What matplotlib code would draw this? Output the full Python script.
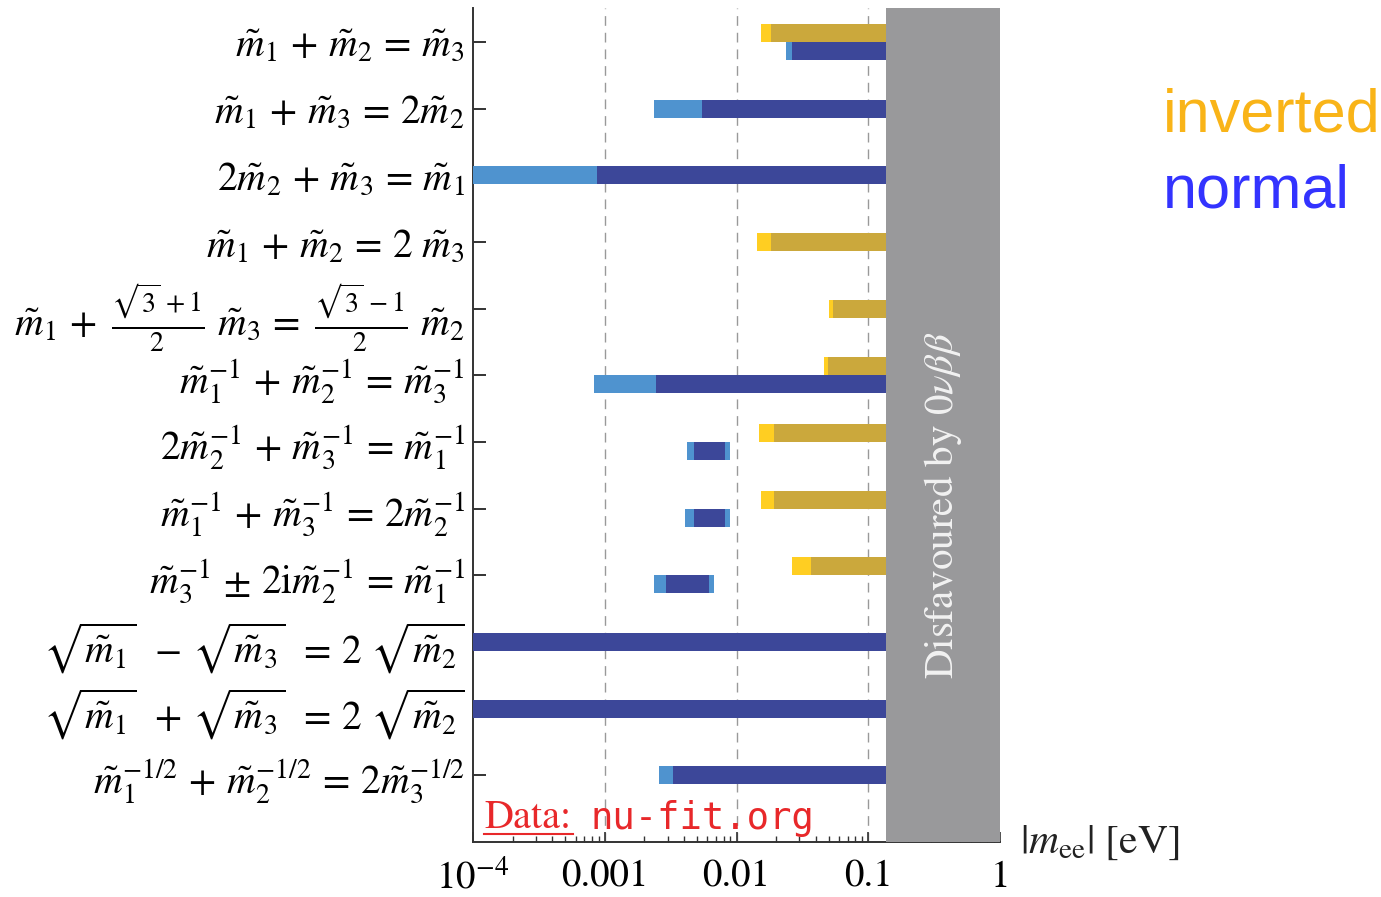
import numpy as np
import matplotlib
matplotlib.use('Agg')
import matplotlib.pyplot as plt
from matplotlib.ticker import LogLocator, NullFormatter

plt.rcParams['mathtext.fontset'] = 'stix'
plt.rcParams['font.family'] = 'STIXGeneral'

nan = np.nan

# relation labels, top to bottom
labels = [
    r'$\tilde{m}_1 \,+\, \tilde{m}_2 \,=\, \tilde{m}_3$',
    r'$\tilde{m}_1 \,+\, \tilde{m}_3 \,=\, 2\tilde{m}_2$',
    r'$2\tilde{m}_2 \,+\, \tilde{m}_3 \,=\, \tilde{m}_1$',
    r'$\tilde{m}_1 \,+\, \tilde{m}_2 \,=\, 2\ \tilde{m}_3$',
    r'$\tilde{m}_1 \,+\ \frac{\sqrt{3}\,+1}{2}\ \tilde{m}_3 \,=\ \frac{\sqrt{3}\,-1}{2}\ \tilde{m}_2$',
    r'$\tilde{m}_1^{-1} \,+\, \tilde{m}_2^{-1} \,=\, \tilde{m}_3^{-1}$',
    r'$2\tilde{m}_2^{-1} \,+\, \tilde{m}_3^{-1} \,=\, \tilde{m}_1^{-1}$',
    r'$\tilde{m}_1^{-1} \,+\, \tilde{m}_3^{-1} \,=\, 2\tilde{m}_2^{-1}$',
    r'$\tilde{m}_3^{-1} \,\pm\, 2\mathrm{i}\tilde{m}_2^{-1} \,=\, \tilde{m}_1^{-1}$',
    r'$\sqrt{\tilde{m}_1}\ \,-\, \sqrt{\tilde{m}_3}\ \,=\, 2\ \sqrt{\tilde{m}_2}$',
    r'$\sqrt{\tilde{m}_1}\ \,+\, \sqrt{\tilde{m}_3}\ \,=\, 2\ \sqrt{\tilde{m}_2}$',
    r'$\tilde{m}_1^{-1/2} \,+\, \tilde{m}_2^{-1/2} \,=\, 2\tilde{m}_3^{-1/2}$',
]

# |m_ee| ranges in eV (light = full range, dark = inner range); nan = no solution
inv_light_lo = [0.0153, nan, nan, 0.0144, 0.0507, 0.0464, 0.0148, 0.0154, 0.0263, nan, nan, nan]
inv_dark_lo = [0.0183, nan, nan, 0.0183, 0.0539, 0.0494, 0.0194, 0.0194, 0.0366, nan, nan, nan]
inv_hi = [0.14, nan, nan, 0.14, 0.14, 0.14, 0.14, 0.14, 0.14, nan, nan, nan]

nor_light_lo = [0.0239, 0.00238, 1e-5, nan, nan, 0.00083, 0.00423, 0.00410, 0.00238, 1e-5, 1e-5, 0.0026]
nor_dark_lo = [0.0263, 0.0055, 0.00088, nan, nan, 0.00245, 0.00473, 0.00473, 0.00294, 1e-5, 1e-5, 0.0033]
nor_dark_hi = [0.14, 0.14, 0.14, nan, nan, 0.14, 0.00818, 0.00818, 0.00618, 0.14, 0.14, 0.14]
nor_light_hi = [0.14, 0.14, 0.14, nan, nan, 0.14, 0.00894, 0.00894, 0.00675, 0.14, 0.14, 0.14]

excluded = 0.137  # disfavoured by 0vbb above this

gold_dark = '#cba83c'
gold_light = '#ffce22'
blue_dark = '#3c4799'
blue_light = '#4f93cf'

fig = plt.figure(figsize=(13.81, 8.97), dpi=100)
ax = fig.add_axes([473/1381, 1 - 842/897, (1000 - 473)/1381, (842 - 8)/897])

ypos = np.arange(1, len(labels) + 1)
h = 0.27

for i, y in enumerate(ypos):
    has_inv = not np.isnan(inv_hi[i])
    has_nor = not np.isnan(nor_light_hi[i])
    yi, yn = y, y
    if has_inv and has_nor:
        yi, yn = y - h/2, y + h/2
    if has_inv:
        ax.barh(yi, inv_hi[i] - inv_light_lo[i], left=inv_light_lo[i], height=h, color=gold_light, zorder=3)
        ax.barh(yi, inv_hi[i] - inv_dark_lo[i], left=inv_dark_lo[i], height=h, color=gold_dark, zorder=4)
    if has_nor:
        ax.barh(yn, nor_light_hi[i] - nor_light_lo[i], left=nor_light_lo[i], height=h, color=blue_light, zorder=3)
        ax.barh(yn, nor_dark_hi[i] - nor_dark_lo[i], left=nor_dark_lo[i], height=h, color=blue_dark, zorder=4)

ax.axvspan(excluded, 1, color='#99999b', zorder=5, lw=0)
ax.text(np.sqrt(excluded * 1.0), 7.95, r'Disfavoured by $0\nu\beta\beta$', rotation=90,
        ha='center', va='center', color='#f2f2f2', fontsize=29.5, zorder=6)

ax.set_xscale('log')
ax.set_xlim(1e-4, 1)
ax.set_ylim(13.0, 0.49)

for g in [1e-3, 1e-2, 1e-1]:
    ax.axvline(g, color='#999999', lw=1, ls=(0, (7, 5)), zorder=1)

ax.set_yticks(ypos)
ax.set_yticklabels(labels, fontsize=28.5)
ax.set_xticks([1e-4, 1e-3, 1e-2, 1e-1, 1])
ax.set_xticklabels([r'$10^{-4}$', '0.001', '0.01', '0.1', '1'], fontsize=28)
ax.xaxis.set_minor_locator(LogLocator(base=10, subs=np.arange(2, 10)))
ax.xaxis.set_minor_formatter(NullFormatter())
ax.tick_params(axis='y', direction='in', length=9, width=1.4, color='#333333', pad=6)
ax.tick_params(axis='x', which='major', direction='in', length=7, width=1.2, color='#333333', pad=13)
ax.tick_params(axis='x', which='minor', direction='in', length=4, width=1, color='#333333')

for s in ['top', 'right']:
    ax.spines[s].set_visible(False)
for s in ['left', 'bottom']:
    ax.spines[s].set_color('#333333')
    ax.spines[s].set_linewidth(1.4)

# source note
fig.text(484/1381, 1 - 818/897, 'Data:', color='#e8282a', fontsize=29, va='center', ha='left')
fig.text(590/1381, 1 - 818/897, 'nu-fit.org', color='#e8282a', fontsize=26.8, va='center', ha='left',
         family='DejaVu Sans Mono')
fig.add_artist(plt.Line2D([484/1381, 573/1381], [1 - 834/897, 1 - 834/897], color='#e8282a', lw=1.5,
                          transform=fig.transFigure))

fig.text(1020/1381, 1 - 843/897, r'$|m_{\mathrm{ee}}|$ [eV]', fontsize=30, va='center', ha='left', color='#222222')

fig.text(1163/1381, 1 - 132/897, 'inverted', color='#f9b418', fontsize=44, family='Liberation Sans',
         va='baseline', ha='left')
fig.text(1163/1381, 1 - 207/897, 'normal', color='#3333ff', fontsize=44, family='Liberation Sans',
         va='baseline', ha='left')

fig.savefig('out.png', dpi=100)
